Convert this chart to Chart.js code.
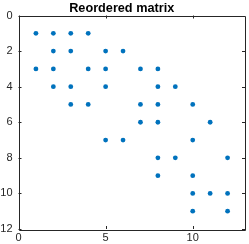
<!DOCTYPE html>
<html>
<head>
<meta charset="utf-8">
<script src="https://cdn.jsdelivr.net/npm/chart.js@4"></script>
<style>
  body { margin: 0; background: #fff; }
</style>
</head>
<body>
<canvas id="spy" width="249" height="244"></canvas>
<script>
// nonzero entries of the reordered matrix (column, row)
const cols = [1,2,3,4, 2,3,5,6, 1,2,4,5,7,8, 2,3,5,8,9, 3,4,7,8,10, 7,8,11, 5,6,10, 8,9,12, 8,10, 10,11,12, 10,12];
const rows = [1,1,1,1, 2,2,2,2, 3,3,3,3,3,3, 4,4,4,4,4, 5,5,5,5,5, 6,6,6, 7,7,7, 8,8,8, 9,9, 10,10,10, 11,11];
const xTicks = [0, 5, 10];
const yTicks = [0, 2, 4, 6, 8, 10, 12];
const title = 'Reordered matrix';

let pts = cols.map((c, i) => ({x: c, y: rows[i]}));

// box + inward ticks + title, octave style
const boxPlugin = {
  id: 'box',
  afterDraw(chart) {
    const c = chart.ctx, a = chart.chartArea;
    const xs = chart.scales.x, ys = chart.scales.y;
    c.save();
    c.strokeStyle = '#262626';
    c.lineWidth = 1;
    c.beginPath();
    c.rect(Math.round(a.left) + 0.5, Math.round(a.top) + 0.5, Math.round(a.right - a.left) - 1, Math.round(a.bottom - a.top));
    xTicks.forEach(v => {
      let px = Math.round(xs.getPixelForValue(v)) + 0.5;
      c.moveTo(px, a.bottom); c.lineTo(px, a.bottom - 3);
      c.moveTo(px, a.top); c.lineTo(px, a.top + 3);
    });
    yTicks.forEach(v => {
      let py = Math.round(ys.getPixelForValue(v)) + 0.5;
      c.moveTo(a.left, py); c.lineTo(a.left + 3, py);
      c.moveTo(a.right, py); c.lineTo(a.right - 3, py);
    });
    c.stroke();
    c.fillStyle = '#000';
    c.font = 'bold 12.7px "Liberation Sans"';
    c.textAlign = 'center';
    c.textBaseline = 'alphabetic';
    c.fillText(title, 121.7, 11.5);
    c.restore();
  }
};

new Chart(document.getElementById('spy'), {
  type: 'scatter',
  data: {
    datasets: [{
      data: pts,
      backgroundColor: '#0072BD',
      borderWidth: 0,
      pointRadius: 2.4
    }]
  },
  options: {
    responsive: false,
    animation: false,
    layout: { padding: { left: 0, right: 1, top: 15.5, bottom: 0 } },
    plugins: {
      legend: { display: false },
      tooltip: { enabled: false },
      title: { display: false }
    },
    scales: {
      x: {
        type: 'linear', min: 0, max: 13,
        grid: { display: false, tickLength: 0 }, border: { display: false },
        afterBuildTicks: s => { s.ticks = xTicks.map(v => ({value: v})); },
        afterFit: s => { s.height = 15; },
        ticks: { color: '#262626', padding: 2, maxRotation: 0, font: { family: 'Liberation Sans', size: 11 } }
      },
      y: {
        type: 'linear', min: 0, max: 12, reverse: true,
        grid: { display: false, tickLength: 0 }, border: { display: false },
        afterBuildTicks: s => { s.ticks = yTicks.map(v => ({value: v})); },
        afterFit: s => { s.width = 18.5; },
        ticks: { color: '#262626', padding: 6, font: { family: 'Liberation Sans', size: 11 } }
      }
    }
  },
  plugins: [boxPlugin]
});
</script>
</body>
</html>
